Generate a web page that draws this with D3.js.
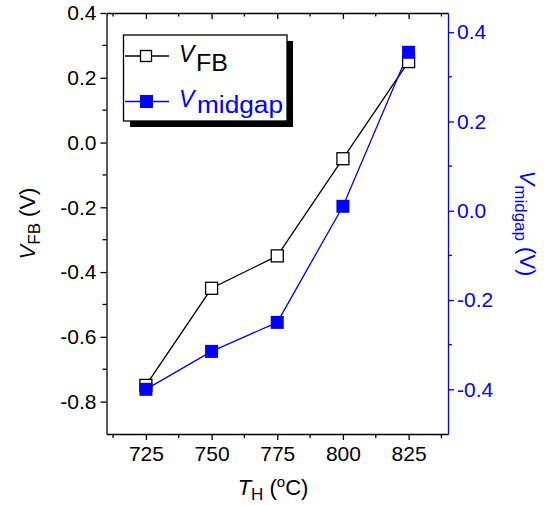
<!DOCTYPE html>
<html><head><meta charset="utf-8">
<script src="https://cdn.jsdelivr.net/npm/d3@7"></script>
<style>body{margin:0;background:#fff}svg{display:block}text{font-family:"Liberation Sans",Arial,sans-serif}</style>
</head><body><svg id="c" width="547" height="505"></svg>
<script>
const temps = [725, 750, 775, 800, 825];
const vfb = [-0.75, -0.45, -0.35, -0.05, 0.25];
const vmidgap = [-0.40, -0.315, -0.25, 0.01, 0.355];
const xTicks = [725, 750, 775, 800, 825];
const leftTicks = [0.4, 0.2, 0.0, -0.2, -0.4, -0.6, -0.8];
const rightTicks = [0.4, 0.2, 0.0, -0.2, -0.4];

const BLUE = "#0000ff";
const svg = d3.select("#c");
const L = 106.5, R = 448, T = 13, B = 434;
const x = d3.scaleLinear().domain([710, 840]).range([L, R]);
const yL = d3.scaleLinear().domain([-0.9, 0.4]).range([B, T]);
const yR = d3.scaleLinear().domain([-0.5, 0.443]).range([B, T]);
const lab = v => (Math.abs(v) < 1e-9 ? "0.0" : v.toFixed(1));
const FS = 21;

// bottom axis
const xMinor = d3.range(712.5, 840, 12.5).filter(v => !xTicks.includes(v));
const gB = svg.append("g").attr("transform", `translate(0,${B})`)
  .call(d3.axisBottom(x).tickValues(xTicks).tickSize(6).tickSizeOuter(0).tickFormat(d3.format("d")));
gB.selectAll(".tick text").attr("font-size", FS).attr("dy", "0.71em").attr("y", 12).attr("fill", "#000");
gB.selectAll(".tick line, .domain").attr("stroke", "#000").attr("stroke-width", 1.3);
gB.selectAll(".minor").data(xMinor).enter().append("line").attr("x1", d => x(d)).attr("x2", d => x(d)).attr("y1", 0).attr("y2", 4).attr("stroke", "#000").attr("stroke-width", 1.3);

// top axis (mirror, inward ticks)
const gT = svg.append("g").attr("transform", `translate(0,${T})`)
  .call(d3.axisTop(x).tickValues(xTicks).tickSize(-6).tickSizeOuter(0).tickFormat(""));
gT.selectAll(".tick line, .domain").attr("stroke", "#000").attr("stroke-width", 1.3);
gT.selectAll(".minor").data(xMinor).enter().append("line").attr("x1", d => x(d)).attr("x2", d => x(d)).attr("y1", 0).attr("y2", 3.5).attr("stroke", "#000").attr("stroke-width", 1.3);

// left axis
const lMinor = [0.3, 0.1, -0.1, -0.3, -0.5, -0.7];
const gL = svg.append("g").attr("transform", `translate(${L},0)`)
  .call(d3.axisLeft(yL).tickValues(leftTicks).tickSize(6).tickSizeOuter(0).tickFormat(lab));
gL.selectAll(".tick text").attr("font-size", FS).attr("x", -10).attr("fill", "#000");
gL.selectAll(".tick line, .domain").attr("stroke", "#000").attr("stroke-width", 1.3);
gL.selectAll(".minor").data(lMinor).enter().append("line").attr("y1", d => yL(d)).attr("y2", d => yL(d)).attr("x1", 0).attr("x2", -4).attr("stroke", "#000").attr("stroke-width", 1.3);

// right axis
const rMinor = [0.3, 0.1, -0.1, -0.3];
const gR = svg.append("g").attr("transform", `translate(${R},0)`)
  .call(d3.axisRight(yR).tickValues(rightTicks).tickSize(6).tickSizeOuter(0).tickFormat(lab));
gR.selectAll(".tick text").attr("font-size", FS).attr("x", 9).attr("fill", BLUE);
gR.selectAll(".tick line, .domain").attr("stroke", BLUE).attr("stroke-width", 1.3);
gR.selectAll(".minor").data(rMinor).enter().append("line").attr("y1", d => yR(d)).attr("y2", d => yR(d)).attr("x1", 0).attr("x2", 4).attr("stroke", BLUE).attr("stroke-width", 1.3);

// series
const lineL = d3.line().x((d, i) => x(temps[i])).y(d => yL(d));
const lineR = d3.line().x((d, i) => x(temps[i])).y(d => yR(d));
svg.append("path").attr("d", lineL(vfb)).attr("fill", "none").attr("stroke", "#000").attr("stroke-width", 1.3);
svg.append("path").attr("d", lineR(vmidgap)).attr("fill", "none").attr("stroke", BLUE).attr("stroke-width", 1.3);
const S = 12, S2 = 13;
svg.selectAll(".p1").data(vfb).enter().append("rect")
  .attr("x", (d, i) => x(temps[i]) - S / 2).attr("y", d => yL(d) - S / 2).attr("width", S).attr("height", S)
  .attr("fill", "#fff").attr("stroke", "#000").attr("stroke-width", 1.3);
svg.selectAll(".p2").data(vmidgap).enter().append("rect")
  .attr("x", (d, i) => x(temps[i]) - S2 / 2).attr("y", d => yR(d) - S2 / 2).attr("width", S2).attr("height", S2)
  .attr("fill", BLUE);

// legend
const lg = svg.append("g");
lg.append("rect").attr("x", 130).attr("y", 41).attr("width", 163).attr("height", 86).attr("fill", "#000");
lg.append("rect").attr("x", 123.5).attr("y", 35).attr("width", 163.5).attr("height", 86).attr("fill", "#fff").attr("stroke", "#000").attr("stroke-width", 1.3);
lg.append("line").attr("x1", 125).attr("x2", 169).attr("y1", 56).attr("y2", 56).attr("stroke", "#000").attr("stroke-width", 1.3);
lg.append("rect").attr("x", 140.5).attr("y", 50.5).attr("width", 11).attr("height", 11).attr("fill", "#fff").attr("stroke", "#000").attr("stroke-width", 1.3);
lg.append("line").attr("x1", 125).attr("x2", 169).attr("y1", 101.5).attr("y2", 101.5).attr("stroke", BLUE).attr("stroke-width", 1.3);
lg.append("rect").attr("x", 140).attr("y", 95).attr("width", 13).attr("height", 13).attr("fill", BLUE);
lg.append("text").attr("x", 179).attr("y", 62).attr("font-size", 23).attr("font-style", "italic").text("V");
lg.append("text").attr("x", 196).attr("y", 71).attr("font-size", 23).attr("textLength", 32).attr("lengthAdjust", "spacingAndGlyphs").text("FB");
lg.append("text").attr("x", 179).attr("y", 107).attr("font-size", 23).attr("font-style", "italic").attr("fill", BLUE).text("V");
lg.append("text").attr("x", 197).attr("y", 113).attr("font-size", 23).attr("fill", BLUE).attr("textLength", 86).attr("lengthAdjust", "spacingAndGlyphs").text("midgap");

// axis titles
const tl = svg.append("text").attr("transform", `translate(35,${(T + B) / 2}) rotate(-90)`).attr("text-anchor", "middle").attr("font-size", 22);
tl.append("tspan").attr("font-style", "italic").text("V");
tl.append("tspan").attr("dy", 5).attr("font-size", 17).text("FB");
tl.append("tspan").attr("dy", -5).text(" (V)");

const tr = svg.append("text").attr("transform", `translate(520,${(T + B) / 2}) rotate(90)`).attr("text-anchor", "middle").attr("font-size", 22).attr("fill", BLUE);
tr.append("tspan").attr("font-style", "italic").text("V");
tr.append("tspan").attr("dy", 5).attr("font-size", 17).text("midgap");
tr.append("tspan").attr("dy", -5).text(" (V)");

const tb = svg.append("text").attr("x", 273).attr("y", 495).attr("text-anchor", "middle").attr("font-size", 22);
tb.append("tspan").attr("font-style", "italic").text("T");
tb.append("tspan").attr("dy", 5).attr("font-size", 17).text("H");
tb.append("tspan").attr("dy", -5).text(" (");
tb.append("tspan").attr("dy", -8).attr("font-size", 15).text("o");
tb.append("tspan").attr("dy", 8).text("C)");
</script></body></html>
